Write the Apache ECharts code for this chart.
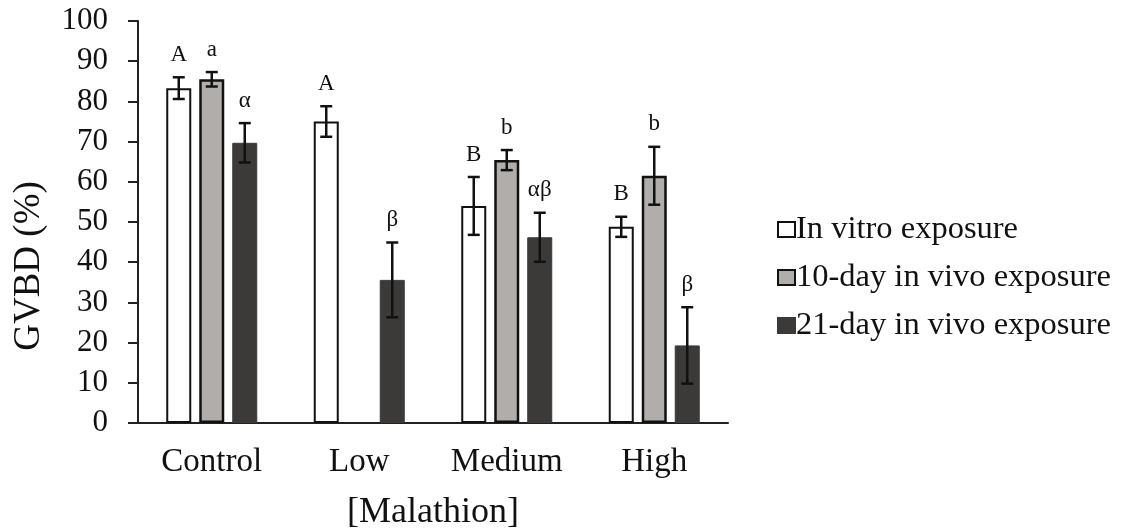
<!DOCTYPE html>
<html>
<head>
<meta charset="utf-8">
<script src="https://cdn.jsdelivr.net/npm/echarts@6/dist/echarts.min.js"></script>
<style>html,body{margin:0;padding:0;background:#fff;}#c{width:1138px;height:529px;}</style>
</head>
<body>
<div id="c"></div>
<script>
var categories = ['Control', 'Low', 'Medium', 'High'];
var seriesNames = ['In vitro exposure', '10-day in vivo exposure', '21-day in vivo exposure'];
var inVitro = [83.3, 75.0, 54.0, 48.8];
var inVitroErr = [2.7, 3.8, 7.2, 2.5];
var day10 = [85.5, null, 65.4, 61.5];
var day10Err = [1.8, null, 2.5, 7.2];
var day21 = [69.7, 35.6, 46.2, 19.3];
var day21Err = [4.9, 9.3, 6.1, 9.5];
var lettersInVitro = ['A', 'A', 'B', 'B'];
var letters10 = ['a', '', 'b', 'b'];
var letters21 = ['\u03b1', '\u03b2', '\u03b1\u03b2', '\u03b2'];
var yTicks = [0, 10, 20, 30, 40, 50, 60, 70, 80, 90, 100];

var FONT = 'Liberation Serif';
var means = [inVitro, day10, day21];
var errs = [inVitroErr, day10Err, day21Err];
var letters = [lettersInVitro, letters10, letters21];

var errData = [];
for (var s = 0; s < 3; s++) {
  for (var c = 0; c < categories.length; c++) {
    if (means[s][c] != null) errData.push([c, s, means[s][c], errs[s][c]]);
  }
}

var BAR_W = 25, PITCH = 33;

var chart = echarts.init(document.getElementById('c'));
chart.setOption({
  animation: false,
  backgroundColor: '#fff',
  grid: { left: 138, right: 410, top: 21, bottom: 106, containLabel: false, outerBoundsMode: 'none' },
  legend: {
    orient: 'vertical',
    left: 772,
    top: 208,
    data: seriesNames,
    itemWidth: 17,
    itemHeight: 15,
    itemGap: 15,
    icon: 'rect',
    textStyle: { fontFamily: FONT, fontSize: 32.5, color: '#111', lineHeight: 33, padding: [0, 0, 0, -4] }
  },
  graphic: [{
    type: 'text',
    x: 29, y: 266,
    rotation: Math.PI / 2,
    style: { text: 'GVBD (%)', font: '37px "Liberation Serif"', fill: '#111', textAlign: 'center', textVerticalAlign: 'middle' }
  }],
  xAxis: {
    type: 'category',
    data: categories,
    name: '[Malathion]',
    nameLocation: 'middle',
    nameGap: 72,
    nameTextStyle: { fontFamily: FONT, fontSize: 36, color: '#111' },
    axisTick: { show: false },
    axisLine: { lineStyle: { color: '#222', width: 2 } },
    axisLabel: { fontFamily: FONT, fontSize: 33, color: '#111', margin: 23 }
  },
  yAxis: {
    type: 'value',
    min: 0, max: 100, interval: 10,
    splitLine: { show: false },
    axisLine: { show: true, lineStyle: { color: '#222', width: 2 } },
    axisTick: { show: true, inside: false, length: 10, lineStyle: { color: '#222', width: 2 } },
    axisLabel: { fontFamily: FONT, fontSize: 31, color: '#111', margin: 30,
      formatter: function (v) { return yTicks.indexOf(v) >= 0 ? String(v) : ''; } }
  },
  series: [
    { name: seriesNames[0], type: 'bar', data: inVitro, barWidth: BAR_W, barGap: '32%',
      itemStyle: { color: '#ffffff', borderColor: '#111', borderWidth: 2 } },
    { name: seriesNames[1], type: 'bar', data: day10, barWidth: BAR_W, barGap: '32%',
      itemStyle: { color: '#b1adab', borderColor: '#111', borderWidth: 2.5 } },
    { name: seriesNames[2], type: 'bar', data: day21, barWidth: BAR_W, barGap: '32%',
      itemStyle: { color: '#3b3a38', borderColor: '#3b3a38', borderWidth: 1 } },
    { type: 'custom', name: 'err', data: errData, z: 10,
      encode: { x: 0, y: 2 },
      renderItem: function (params, api) {
        var c = api.value(0), s = api.value(1), m = api.value(2), e = api.value(3);
        var top = api.coord([c, m + e]);
        var bot = api.coord([c, m - e]);
        var x = top[0] + (s - 1) * PITCH;
        var cap = 6;
        var st = { stroke: '#111', lineWidth: 2.5 };
        var txt = letters[s][c];
        return { type: 'group', children: [
          { type: 'line', shape: { x1: x, y1: top[1], x2: x, y2: bot[1] }, style: st },
          { type: 'line', shape: { x1: x - cap, y1: top[1], x2: x + cap, y2: top[1] }, style: st },
          { type: 'line', shape: { x1: x - cap, y1: bot[1], x2: x + cap, y2: bot[1] }, style: st },
          { type: 'text', x: x, y: top[1] - 11,
            style: { text: txt, font: '23px "Liberation Serif"', fill: '#111', textAlign: 'center', textVerticalAlign: 'bottom' } }
        ] };
      }
    }
  ]
});
</script>
</body>
</html>
